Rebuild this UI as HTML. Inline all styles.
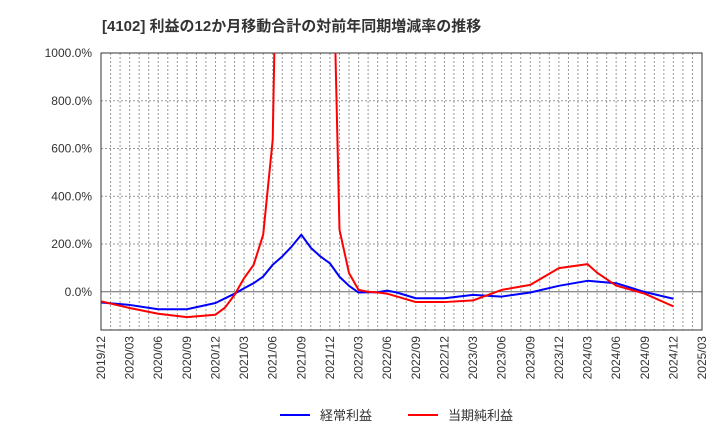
<!DOCTYPE html>
<html><head><meta charset="utf-8"><style>
body{margin:0;background:#fff;font-family:"Liberation Sans","Noto Sans CJK JP",sans-serif;}
svg text{font-family:"Liberation Sans","Noto Sans CJK JP",sans-serif;}
</style></head><body>
<svg width="720" height="440" xmlns="http://www.w3.org/2000/svg" id="chart">
<text x="102" y="31" font-size="15" font-weight="bold" fill="#333">[4102]  利益の12か月移動合計の対前年同期増減率の推移</text>
<g id="grid"></g><g id="axes"></g>
<defs><clipPath id="clip"><rect x="101" y="53" width="601" height="277"/></clipPath></defs>
<g id="series" clip-path="url(#clip)"></g>
<g>
<line x1="280" y1="415" x2="310" y2="415" stroke="#0000ff" stroke-width="2"/>
<text x="320" y="420" font-size="13" fill="#333">経常利益</text>
<line x1="408" y1="415" x2="438" y2="415" stroke="#ff0000" stroke-width="2"/>
<text x="448" y="420" font-size="13" fill="#333">当期純利益</text>
</g>
</svg>
<script>
const xTickLabels=["2019/12","2020/03","2020/06","2020/09","2020/12","2021/03","2021/06","2021/09","2021/12","2022/03","2022/06","2022/09","2022/12","2023/03","2023/06","2023/09","2023/12","2024/03","2024/06","2024/09","2024/12","2025/03"];
const yTicks=[0,200,400,600,800,1000];
const yTickLabels=["0.0%","200.0%","400.0%","600.0%","800.0%","1000.0%"];
const blueMonths=[0,3,6,9,12,14,15,16,17,18,19,20,21,22,23,24,25,26,27,28,29,30,31,33,36,39,42,45,48,51,54,57,60];
const blueValues=[-45,-55,-73,-73,-47,-8,15,36,64,113,148,190,239,184,148,119,63,25,-3,-2,-2,5,-3,-27,-27,-13,-20,-3,25,46,36,-1,-29];
const redMonths=[0,3,6,9,12,13,14,15,16,17,18,19,24,25,26,27,28,29,30,33,36,39,42,45,48,51,52,54,57,60];
const redValues=[-40,-68,-92,-106,-96,-66,-13,57,113,239,637,2800,2000,260,78,8,0,-3,-8,-43,-43,-36,8,29,99,116,80,26,-8,-61];
const X0=101,X1=702,Y0=330,Y1=53,VMIN=-160,VMAX=1000,NM=63;
const xs=m=>X0+(X1-X0)*m/NM;
const ys=v=>Y0-(v-VMIN)*(Y0-Y1)/(VMAX-VMIN);
const NS="http://www.w3.org/2000/svg";
function mk(tag,attrs,parent){const e=document.createElementNS(NS,tag);for(const k in attrs)e.setAttribute(k,attrs[k]);parent.appendChild(e);return e;}
const grid=document.getElementById('grid'),axes=document.getElementById('axes'),series=document.getElementById('series');
for(let m=1;m<NM;m++){const l=mk('line',{x1:xs(m),x2:xs(m),y1:Y1,y2:Y0,stroke:'#999','stroke-dasharray':'2,2','stroke-width':1},grid);

}
yTicks.forEach((v,i)=>{
 if(v!==0&&v!==VMAX){const l=mk('line',{x1:X0,x2:X1,y1:ys(v),y2:ys(v),stroke:'#999','stroke-dasharray':'2,2'},grid);
 
 }
 const t=mk('text',{x:92,y:ys(v)+4,'font-size':12,fill:'#333','text-anchor':'end'},axes);t.textContent=yTickLabels[i];
 
 
});
const z=mk('line',{x1:X0,x2:X1,y1:ys(0),y2:ys(0),stroke:'#666','stroke-width':1},grid);


const fr=mk('rect',{x:X0,y:Y1,width:X1-X0,height:Y0-Y1,fill:'none',stroke:'#333','stroke-width':1},axes);


xTickLabels.forEach((s,i)=>{const x=xs(i*3);
 const t=mk('text',{x:0,y:0,'font-size':12,fill:'#333','text-anchor':'end',transform:`translate(${x+4},${Y0+6}) rotate(-90)`},axes);t.textContent=s;
 
 });
function line(ms,vs,color,name){const p=mk('polyline',{points:ms.map((m,i)=>xs(m)+','+ys(vs[i])).join(' '),fill:'none',stroke:color,'stroke-width':2,'stroke-linejoin':'round'},series);
 
 }
line(blueMonths,blueValues,'#0000ff','ordinary-profit-line');
line(redMonths,redValues,'#ff0000','net-profit-line');
</script>
</body></html>
